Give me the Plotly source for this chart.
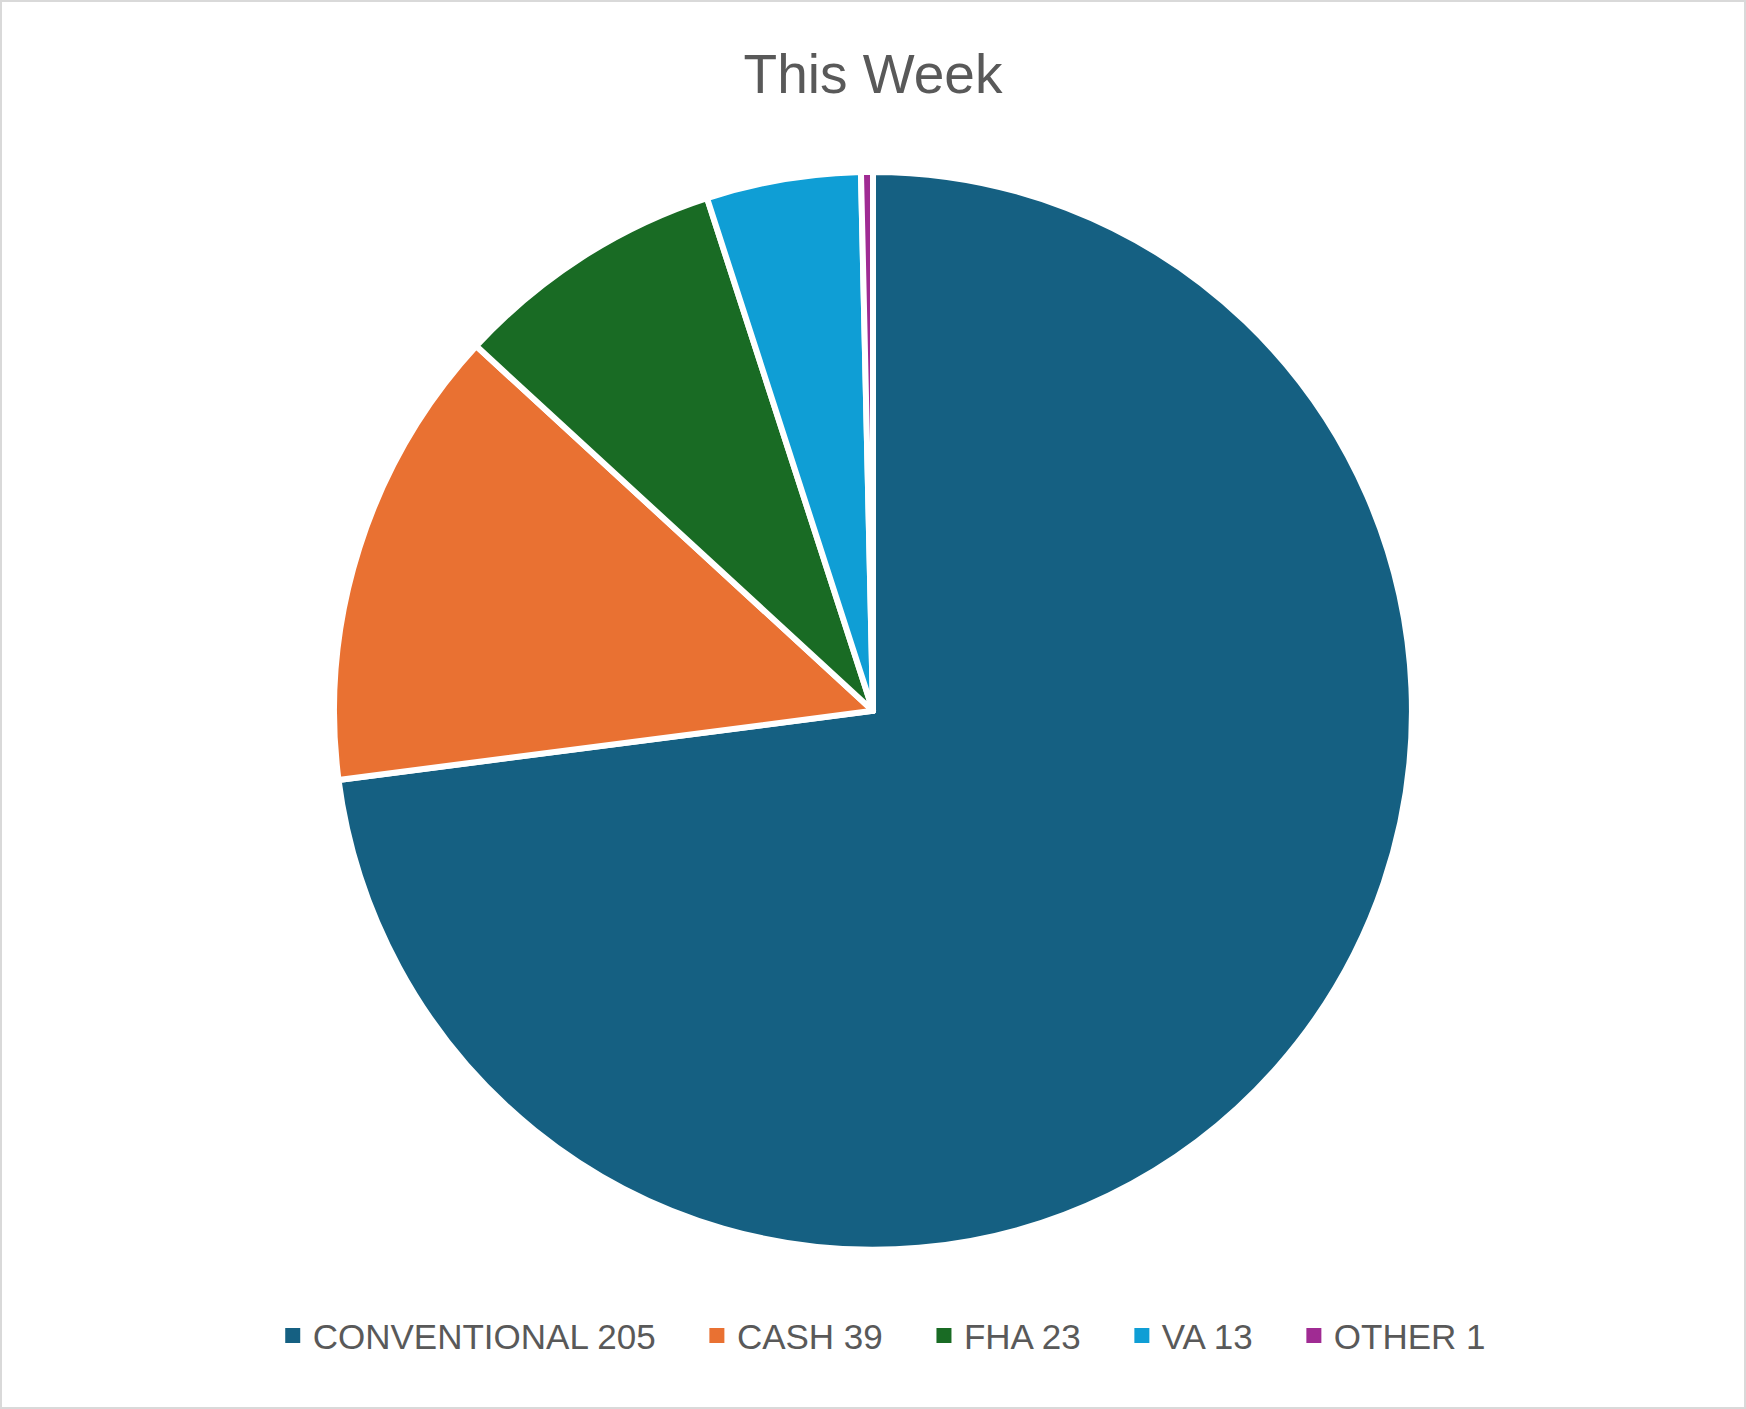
import plotly.graph_objects as go

# pie data
categories = ["CONVENTIONAL", "CASH", "FHA", "VA", "OTHER"]
counts = [205, 39, 23, 13, 1]
slice_colours = ["#156082", "#E97132", "#196B24", "#0F9ED5", "#A02B93"]

labels = [f"{c} {n}" for c, n in zip(categories, counts)]

FONT = "Liberation Sans, Arial, sans-serif"
GREY = "#595959"

fig = go.Figure()

fig.add_trace(go.Pie(
    labels=labels,
    values=counts,
    sort=False,
    direction="clockwise",
    rotation=0,
    textinfo="none",
    hoverinfo="label+percent",
    showlegend=False,
    marker=dict(colors=slice_colours, line=dict(color="white", width=6)),
    domain=dict(x=[0, 1], y=[0.113, 0.878]),
))

# legend entries (square swatches like the Excel legend); pad all but the last
# so the entries sit further apart
for i, (lab, col) in enumerate(zip(labels, slice_colours)):
    pad = "\u00a0" * 3 + "\u2009" if i < len(labels) - 1 else ""
    fig.add_trace(go.Scatter(
        x=[None], y=[None], mode="markers", name=lab + pad,
        marker=dict(symbol="square", size=15, color=col, line=dict(width=0)),
        hoverinfo="skip",
    ))

fig.update_layout(
    width=1746,
    height=1409,
    margin=dict(l=0, r=0, t=0, b=0),
    paper_bgcolor="white",
    plot_bgcolor="white",
    font=dict(family=FONT, color=GREY),
    title=dict(text="This Week", x=0.5, xanchor="center", y=0.948, yanchor="middle",
               font=dict(size=55, color=GREY)),
    showlegend=True,
    legend=dict(orientation="h", x=0.505, xanchor="center", y=0.052, yanchor="middle",
                font=dict(size=35, color=GREY), traceorder="normal", itemsizing="trace"),
    xaxis=dict(visible=False),
    yaxis=dict(visible=False),
    shapes=[dict(type="rect", xref="paper", yref="paper", x0=0, y0=0, x1=1, y1=1,
                 line=dict(color="#D9D9D9", width=4))],
)

fig.write_html("out.html", config={"displayModeBar": False},
               post_script="document.body.style.margin='0';")
